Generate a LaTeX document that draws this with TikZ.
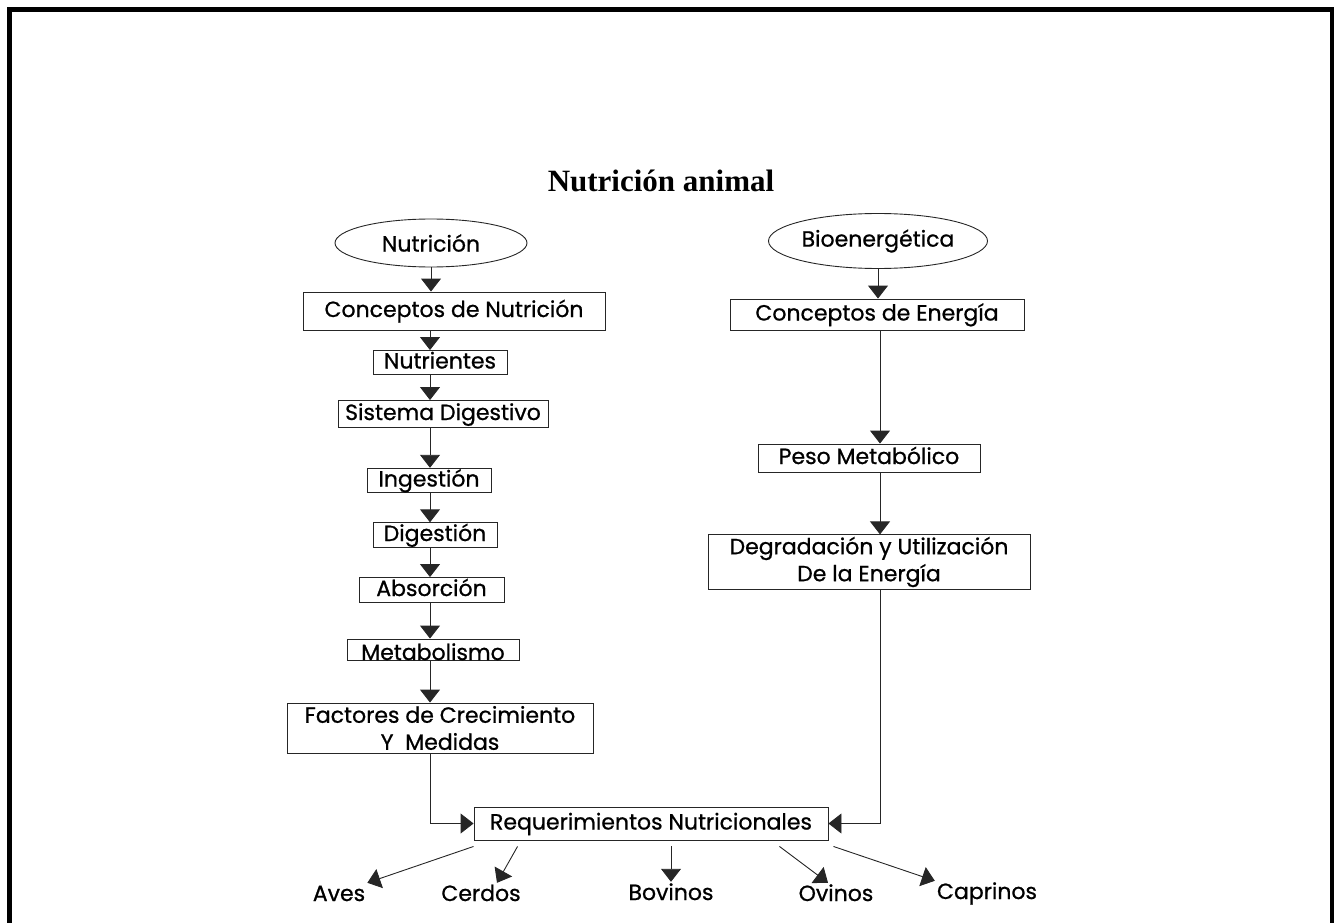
\documentclass[tikz,border=0pt]{standalone}
\usepackage{fontspec}
\setmainfont{Poppins}[FakeBold=0.8]
\newfontfamily\titlefont{Liberation Serif}
\usetikzlibrary{arrows.meta,shapes.geometric}

\begin{document}
\begin{tikzpicture}[x=1pt,y=-1pt,
    every node/.style={font=\fontsize{22pt}{27pt}\selectfont},
    box/.style={draw=black!85,line width=0.9pt,rectangle,inner sep=2pt,align=center},
    oneline/.style={text height=16pt,text depth=4pt},
    oval/.style={draw=black!85,line width=0.9pt,ellipse,minimum width=192pt,minimum height=48pt,inner sep=0pt},
    leaf/.style={inner sep=2pt,text height=16pt,text depth=0pt},
    arr/.style={-{Triangle[width=20pt,length=13pt]},line width=0.9pt,color=black!85}]
    \useasboundingbox (0,0) rectangle (1334,923);
    % frame
    \draw[line width=5pt] (9.5,960) -- (9.5,9.5) -- (1332.5,9.5) -- (1332.5,960);
    \node[font=\titlefont\bfseries\fontsize{31pt}{33pt}\selectfont](title) at (661,181) {Nutrición animal};
    % left column
    \node[oval](nut) at (431,243) {Nutrición};
    \node[box,oneline,minimum width=302pt,minimum height=38pt](cn) at (454,311) {Conceptos de Nutrición};
    \node[box,oneline,minimum width=134pt,minimum height=24pt](nu) at (440,362.5) {Nutrientes};
    \node[box,oneline,minimum width=210pt,minimum height=27pt](sd) at (443,414) {Sistema Digestivo};
    \node[box,oneline,minimum width=124pt,minimum height=24.5pt](ing) at (429,480.5) {Ingestión};
    \node[box,oneline,minimum width=124pt,minimum height=24.5pt](dig) at (435,535) {Digestión};
    \node[box,oneline,minimum width=145pt,minimum height=25pt](abs) at (431.5,590) {Absorción};
    \node[box,inner sep=0pt,text height=21pt,text depth=0pt,minimum width=172pt,minimum height=21pt](met) at (433,649.5) {Metabolismo};
    \node[box,minimum width=306pt,minimum height=50pt](fac) at (440,728) {Factores de Crecimiento\\Y\ \ Medidas};
    % right column
    \node[oval,minimum width=219pt,minimum height=55pt](bio) at (878,241) {Bioenergética};
    \node[box,oneline,minimum width=294pt,minimum height=31pt](ce) at (877,314.5) {Conceptos de Energía};
    \node[box,oneline,minimum width=222pt,minimum height=28pt](pm) at (869,458) {Peso Metabólico};
    \node[box,minimum width=322pt,minimum height=52pt](deg) at (869,562) {Degradación y Utilización\\De la Energía};
    % bottom
    \node[box,oneline,minimum width=354pt,minimum height=33pt](req) at (651,823.5) {Requerimientos Nutricionales};
    \node[leaf](ave) at (339,893) {Aves};
    \node[leaf](cer) at (481,893) {Cerdos};
    \node[leaf](bov) at (671,892) {Bovinos};
    \node[leaf](ovi) at (836,893) {Ovinos};
    \node[leaf](cap) at (987,891) {Caprinos};
    \coordinate (lx) at (430,0);
    \coordinate (rx) at (880,0);
    \path[arr]
    (nut.south) edge (nut.south |- cn.north)
    (cn.south -| lx) edge (nu.north -| lx)
    (nu.south -| lx) edge (sd.north -| lx)
    (sd.south -| lx) edge (ing.north -| lx)
    (ing.south -| lx) edge (dig.north -| lx)
    (dig.south -| lx) edge (abs.north -| lx)
    (abs.south -| lx) edge (met.north -| lx)
    (met.south -| lx) edge (fac.north -| lx)
    (bio.south) edge (bio.south |- ce.north)
    (ce.south -| rx) edge (pm.north -| rx)
    (pm.south -| rx) edge (deg.north -| rx);
    \draw[arr] (fac.south -| lx) |- (req.west);
    \draw[arr] (deg.south -| rx) |- (req.east);
    \path[arr]
    ([yshift=-6pt]req.south west) edge (ave.north east)
    ([xshift=44pt,yshift=-6pt]req.south west) edge ([xshift=16pt]cer.north)
    ([xshift=20pt,yshift=-6pt]req.south) edge (bov.north)
    ([xshift=-49pt,yshift=-6pt]req.south east) edge ([xshift=-8pt]ovi.north)
    ([xshift=5pt,yshift=-6pt]req.south east) edge (cap.north west);
\end{tikzpicture}
\end{document}
